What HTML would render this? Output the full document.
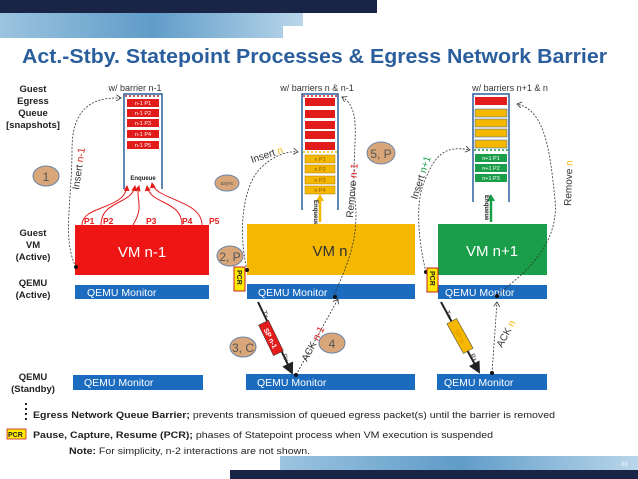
<!DOCTYPE html>
<html><head><meta charset="utf-8"><style>
body{margin:0;width:638px;height:479px;overflow:hidden;background:#fff;font-family:"Liberation Sans",sans-serif}
svg{position:absolute;left:0;top:0}
</style></head><body>
<svg width="638" height="479" viewBox="0 0 638 479" font-family="Liberation Sans, sans-serif">
<defs>
<linearGradient id="band" x1="0" x2="1"><stop offset="0" stop-color="#9cc4e0"/><stop offset="0.5" stop-color="#5f9cc8"/><stop offset="1" stop-color="#b9d6ea"/></linearGradient>
<marker id="oa" markerWidth="8" markerHeight="8" refX="6" refY="4" orient="auto"><path d="M0,0 L6,4 L0,8" fill="none" stroke="#333" stroke-width="1"/></marker>
<marker id="ra" markerWidth="6" markerHeight="6" refX="5" refY="3" orient="auto"><path d="M0,0 L6,3 L0,6z" fill="#e21b1b"/></marker>
<marker id="ba" markerWidth="6" markerHeight="6" refX="5" refY="3" orient="auto"><path d="M0,0 L6,3 L0,6z" fill="#222"/></marker>
</defs>
<rect x="0" y="0" width="377" height="13" fill="#1a2447"/>
<path d="M0,13 H303 V26 H283 V38 H0z" fill="url(#band)"/>
<text x="22" y="63" font-size="20" font-weight="bold" fill="#2a5e9c" textLength="585" lengthAdjust="spacingAndGlyphs">Act.-Stby. Statepoint Processes &amp; Egress Network Barrier</text>
<g font-size="9" fill="#333" text-anchor="middle">
<text x="135" y="91">w/ barrier n-1</text>
<text x="317" y="91">w/ barriers n &amp; n-1</text>
<text x="510" y="91">w/ barriers n+1 &amp; n</text>
</g>
<g font-size="9.5" font-weight="bold" fill="#222" text-anchor="middle">
<text x="33" y="92">Guest</text><text x="33" y="104">Egress</text><text x="33" y="116">Queue</text><text x="33" y="128">[snapshots]</text>
<text x="33" y="236">Guest</text><text x="33" y="248">VM</text><text x="33" y="260">(Active)</text>
<text x="33" y="286">QEMU</text><text x="33" y="298">(Active)</text>
<text x="33" y="380">QEMU</text><text x="33" y="392">(Standby)</text>
</g>
<g fill="none" stroke="#2a5e9c" stroke-width="1.5">
<path d="M124,189 V94 H162 V189"/>
<path d="M302,210 V94 H338 V210"/>
<path d="M473,202 V94 H509 V202"/>
</g>
<g stroke="#c02020" stroke-dasharray="2,2" stroke-width="1.5"><line x1="125" y1="96" x2="161" y2="96"/></g>
<g fill="#e21b1b">
<rect x="127" y="99" width="32" height="8"/><rect x="127" y="109" width="32" height="8"/><rect x="127" y="119" width="32" height="8"/><rect x="127" y="130" width="32" height="8"/><rect x="127" y="141" width="32" height="8"/>
</g>
<g font-size="5.5" fill="#fff" text-anchor="middle">
<text x="143" y="105">n-1 P1</text><text x="143" y="115">n-1 P2</text><text x="143" y="125">n-1 P3</text><text x="143" y="136">n-1 P4</text><text x="143" y="147">n-1 P5</text>
</g>
<text x="143" y="180" font-size="6" font-weight="bold" text-anchor="middle" fill="#222">Enqueue</text>
<line x1="303" y1="96" x2="337" y2="96" stroke="#e21b1b" stroke-dasharray="2,2" stroke-width="1.5"/>
<g fill="#e21b1b">
<rect x="305" y="98" width="30" height="8"/><rect x="305" y="110" width="30" height="8"/><rect x="305" y="121" width="30" height="8"/><rect x="305" y="131" width="30" height="8"/><rect x="305" y="142" width="30" height="8"/>
</g>
<line x1="303" y1="152" x2="337" y2="152" stroke="#f5b800" stroke-dasharray="2,2" stroke-width="1.5"/>
<g fill="#f5b800" stroke="#b07800" stroke-width="0.5">
<rect x="305" y="155" width="30" height="8"/><rect x="305" y="165" width="30" height="8"/><rect x="305" y="176" width="30" height="8"/><rect x="305" y="186" width="30" height="8"/>
</g>
<g font-size="5.5" fill="#8a5a00" text-anchor="middle">
<text x="320" y="161">n P1</text><text x="320" y="171">n P2</text><text x="320" y="182">n P3</text><text x="320" y="192">n P4</text>
</g>
<line x1="320" y1="222" x2="320" y2="199" stroke="#f5b800" stroke-width="2.5"/><path d="M316,201 L320,194 L324,201z" fill="#f5b800"/>
<text transform="translate(314,200) rotate(90)" font-size="6" font-weight="bold" fill="#222">Enqueue</text>
<rect x="475" y="97" width="32" height="8" fill="#e21b1b"/>
<g fill="#f5b800" stroke="#2a5e9c" stroke-width="0.5"><rect x="475" y="109" width="32" height="8"/><rect x="475" y="119" width="32" height="8"/><rect x="475" y="129" width="32" height="8"/><rect x="475" y="140" width="32" height="8"/></g>
<line x1="474" y1="150" x2="508" y2="150" stroke="#1a9e4a" stroke-dasharray="2,2" stroke-width="1.5"/>
<g fill="#1a9e4a"><rect x="475" y="154" width="32" height="8"/><rect x="475" y="164" width="32" height="8"/><rect x="475" y="174" width="32" height="8"/></g>
<g font-size="5.5" fill="#fff" text-anchor="middle"><text x="491" y="160">n+1 P1</text><text x="491" y="170">n+1 P2</text><text x="491" y="180">n+1 P3</text></g>
<line x1="491" y1="222" x2="491" y2="199" stroke="#1a9e4a" stroke-width="2.5"/><path d="M487,201 L491,194 L495,201z" fill="#1a9e4a"/>
<text transform="translate(485,195) rotate(90)" font-size="6" font-weight="bold" fill="#222">Enqueue</text>
<rect x="75" y="225" width="134" height="50" fill="#ee1515"/>
<text x="142" y="257" font-size="15" fill="#fff" text-anchor="middle">VM n-1</text>
<rect x="247" y="224" width="168" height="51" fill="#f5b800"/>
<text x="330" y="256" font-size="15" fill="#333" text-anchor="middle">VM n</text>
<rect x="438" y="224" width="109" height="51" fill="#1a9e4a"/>
<text x="492" y="256" font-size="15" fill="#fff" text-anchor="middle">VM n+1</text>
<g fill="#1b6bbf"><rect x="75" y="285" width="134" height="14"/><rect x="247" y="284" width="168" height="15"/><rect x="438" y="285" width="109" height="14"/>
<rect x="73" y="375" width="130" height="15"/><rect x="246" y="374" width="169" height="16"/><rect x="437" y="374" width="110" height="16"/></g>
<g font-size="10.5" fill="#fff"><text x="87" y="296">QEMU Monitor</text><text x="258" y="296">QEMU Monitor</text><text x="445" y="296">QEMU Monitor</text>
<text x="84" y="386">QEMU Monitor</text><text x="257" y="386">QEMU Monitor</text><text x="444" y="386">QEMU Monitor</text></g>
<g fill="none" stroke="#e21b1b" stroke-width="1" marker-end="url(#ra)">
<path d="M82,225 C82,205 125,210 127,186"/>
<path d="M101,225 C101,200 132,205 135,186"/>
<path d="M133,225 C145,205 135,200 139,186"/>
<path d="M182,225 C182,200 150,205 147,186"/>
<path d="M202,225 C202,200 155,200 152,183"/>
</g>
<g font-size="8.5" font-weight="bold" fill="#e21b1b"><text x="84" y="224">P1</text><text x="103" y="224">P2</text><text x="146" y="224">P3</text><text x="182" y="224">P4</text><text x="209" y="224">P5</text></g>
<g fill="none" stroke="#333" stroke-width="0.8" stroke-dasharray="2,1.5" marker-end="url(#oa)">
<path d="M76,267 C62,240 72,200 72,150 C72,110 90,97 121,98"/>
<path d="M247,270 C240,240 240,200 255,175 C265,160 285,150 298,152"/>
<path d="M333,297 C345,270 360,240 355,200 C350,150 365,110 342,97"/>
<path d="M426,272 C418,240 415,200 425,180 C435,155 445,145 470,150"/>
<path d="M496,296 C515,280 560,250 555,200 C550,150 545,110 517,104"/>
<line x1="296" y1="375" x2="338" y2="299"/>
<line x1="492" y1="373" x2="497" y2="302"/>
</g>
<g fill="#111"><circle cx="76" cy="267" r="2"/><circle cx="247" cy="270" r="2"/><circle cx="335" cy="297" r="2"/><circle cx="426" cy="272" r="2"/><circle cx="497" cy="296" r="2"/><circle cx="296" cy="375" r="2"/><circle cx="492" cy="373" r="2"/></g>
<g font-size="10" fill="#333">
<text transform="translate(79,190) rotate(-82)">Insert <tspan fill="#e21b1b">n-1</tspan></text>
<text transform="translate(252,163) rotate(-18)">Insert <tspan fill="#f5b800">n</tspan></text>
<text transform="translate(353,218) rotate(-85)">Remove <tspan fill="#e21b1b">n-1</tspan></text>
<text transform="translate(417,200) rotate(-72)">Insert <tspan fill="#1a9e4a">n+1</tspan></text>
<text transform="translate(571,206) rotate(-88)">Remove <tspan fill="#f5b800">n</tspan></text>
<text transform="translate(307,362) rotate(-62)">ACK <tspan fill="#e21b1b">n-1</tspan></text>
<text transform="translate(502,348) rotate(-62)">ACK <tspan fill="#f5b800">n</tspan></text>
</g>
<g stroke="#222" stroke-width="2" marker-end="url(#ba)"><line x1="258" y1="302" x2="292" y2="373"/><line x1="441" y1="302" x2="479" y2="372"/></g>
<g transform="translate(271,338) rotate(64)"><rect x="-17" y="-5.5" width="34" height="11" fill="#e21b1b" stroke="#333" stroke-width="0.5"/><text x="0" y="3" font-size="7" font-weight="bold" fill="#fff" text-anchor="middle">SP n-1</text></g>
<g transform="translate(460,336) rotate(61)"><rect x="-17" y="-5.5" width="34" height="11" fill="#f5b800" stroke="#333" stroke-width="0.5"/><text x="0" y="3" font-size="7" font-weight="bold" fill="#e8a000" text-anchor="middle">SP n</text></g>
<g font-size="6.5" fill="#333"><text transform="translate(262,312) rotate(64)">Tx</text><text transform="translate(282,355) rotate(64)">Rx</text>
<text transform="translate(445,312) rotate(61)">Tx</text><text transform="translate(470,355) rotate(61)">Rx</text></g>
<g fill="#d9a679" stroke="#6a85a8" stroke-width="1">
<ellipse cx="46" cy="176" rx="13" ry="10"/><ellipse cx="227" cy="183" rx="12" ry="8"/><ellipse cx="230" cy="256" rx="13" ry="10"/>
<ellipse cx="381" cy="153" rx="14" ry="11"/><ellipse cx="243" cy="347" rx="13" ry="10"/><ellipse cx="332" cy="343" rx="13" ry="10"/>
</g>
<g font-size="12" fill="#555" text-anchor="middle"><text x="46" y="181">1</text><text x="230" y="261">2, P</text><text x="381" y="158">5, P</text><text x="243" y="352">3, C</text><text x="332" y="348">4</text></g>
<text x="227" y="185" font-size="5" fill="#555" text-anchor="middle">async</text>
<g fill="#ffea00" stroke="#c02020" stroke-width="1"><rect x="234" y="267" width="11" height="24"/><rect x="427" y="268" width="11" height="24"/></g>
<g font-size="7" font-weight="bold" fill="#222"><text transform="translate(237,270) rotate(90)">PCR</text><text transform="translate(430,271) rotate(90)">PCR</text></g>
<g fill="#222"><rect x="25" y="403" width="2" height="2"/><rect x="25" y="408" width="2" height="2"/><rect x="25" y="413" width="2" height="2"/><rect x="25" y="418" width="2" height="2"/></g>
<text x="33" y="418" font-size="9" fill="#222" textLength="522" lengthAdjust="spacingAndGlyphs"><tspan font-weight="bold">Egress Network Queue Barrier;</tspan> prevents transmission of queued egress packet(s) until the barrier is removed</text>
<rect x="7" y="429" width="19" height="10" fill="#ffea00" stroke="#c02020" stroke-width="0.8"/>
<text x="8" y="437" font-size="7" font-weight="bold" fill="#222">PCR</text>
<text x="33" y="438" font-size="9" fill="#222" textLength="460" lengthAdjust="spacingAndGlyphs"><tspan font-weight="bold">Pause, Capture, Resume (PCR);</tspan> phases of Statepoint process when VM execution is suspended</text>
<text x="69" y="454" font-size="9" fill="#222" textLength="241" lengthAdjust="spacingAndGlyphs"><tspan font-weight="bold">Note:</tspan> For simplicity, n-2 interactions are not shown.</text>
<rect x="280" y="456" width="358" height="14" fill="url(#band)"/>
<rect x="230" y="470" width="408" height="9" fill="#1a2447"/>
<text x="621" y="466" font-size="6" fill="#fff">20</text>
</svg>
</body></html>
